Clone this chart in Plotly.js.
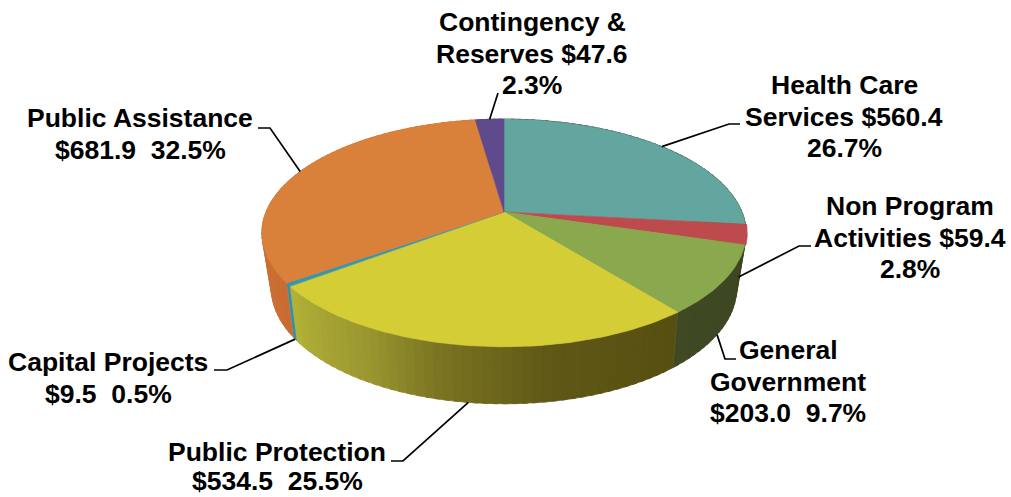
<!DOCTYPE html>
<html>
<head>
<meta charset="utf-8">
<title>Budget by program area</title>
<script src="https://cdn.plot.ly/plotly-3.0.1.min.js"></script>
<style>html,body{margin:0;padding:0;background:#fff}#chart{width:1011px;height:497px}</style>
</head>
<body>
<div id="chart"></div>
<script>
// Budget figures, in the order the slices run clockwise from twelve o'clock.
const categories = ["Health Care Services", "Non Program Activities", "General Government",
  "Public Protection", "Capital Projects", "Public Assistance", "Contingency & Reserves"];
const amounts = [560.4, 59.4, 203.0, 534.5, 9.5, 681.9, 47.6];
const percents = [26.7, 2.8, 9.7, 25.5, 0.5, 32.5, 2.3];

// Wording of each label, one entry per line; {a} and {p} are filled from the arrays above.
const labelLines = [
  ["Health Care", "Services {a}", "{p}"],
  ["Non Program", "Activities {a}", "{p}"],
  ["General", "Government", "{a}\u00a0\u00a0{p}"],
  ["Public Protection", "{a}\u00a0\u00a0{p}"],
  ["Capital Projects", "{a}\u00a0\u00a0{p}"],
  ["Public Assistance", "{a}\u00a0\u00a0{p}"],
  ["Contingency &", "Reserves {a}", "{p}"]
];

// Slice styling.
const topColors = ["#62a69f", "#bd4a4c", "#8aa84e", "#d4cd36", "#3a96a8", "#d9803a", "#5f4a8b"];
const wallStops = [
  [[0, "#3c4722"], [1, "#3c4722"]],
  [[0, "#3c4722"], [1, "#3c4722"]],
  [[0, "#3c4722"], [1, "#3f4a24"]],
  [[0, "#564f10"], [0.3, "#5e5716"], [0.55, "#7a7422"], [0.72, "#9a9630"], [1, "#b4b338"]],
  [[0, "#3d8fa0"], [1, "#3d8fa0"]],
  [[0, "#c96c32"], [0.3, "#cf7434"], [1, "#cf7434"]],
  [[0, "#4a3a70"], [1, "#4a3a70"]]
];

// Perspective pie geometry, in page units (the axes run 1:1 with the page).
const top3d = {cx: 504, cy: 212, rx: 238, ry: 110, tilt: 0.184};
const base3d = {cx: 504, cy: 265, rx: 228, ry: 111, tilt: 0.2};
const explodeFactor = [1, 1.005, 1, 1, 1, 1, 1];

function project(g, deg, scale) {
  const t = deg * Math.PI / 180, s = scale || 1;
  const u = Math.sin(t), v = Math.cos(t), d = 1 + g.tilt * v;
  return [g.cx + s * g.rx * u / d, g.cy - s * g.ry * v / d];
}
function arc(g, a, b, scale) {
  const n = Math.max(2, Math.ceil(Math.abs(b - a))), pts = [];
  for (let i = 0; i <= n; i++) pts.push(project(g, a + (b - a) * i / n, scale));
  return pts;
}
function hex(c) { return [1, 3, 5].map(i => parseInt(c.substr(i, 2), 16)); }
function shade(stops, f) {
  for (let i = 1; i < stops.length; i++) {
    if (f <= stops[i][0]) {
      const k = (f - stops[i - 1][0]) / (stops[i][0] - stops[i - 1][0]);
      const a = hex(stops[i - 1][1]), b = hex(stops[i][1]);
      return "rgb(" + a.map((v, j) => Math.round(v + (b[j] - v) * k)).join(",") + ")";
    }
  }
  return stops[stops.length - 1][1];
}
function polygon(pts, color, name, lineWidth) {
  return {
    type: "scatter", mode: "lines", fill: "toself", fillcolor: color,
    x: pts.map(p => p[0]), y: pts.map(p => p[1]),
    line: {color: color, width: lineWidth}, name: name, hoverinfo: "name", showlegend: false
  };
}

// Cumulative angles from the amounts.
const total = amounts.reduce((s, v) => s + v, 0);
const edges = [0];
amounts.forEach(v => edges.push(edges[edges.length - 1] + v / total * 360));

const traces = [];

// Side wall: narrow strips so the shading can vary round the rim. Each strip runs a
// little past its neighbour's edge and the next one paints over it, which closes the seams.
const stripStep = 2;
categories.forEach((name, i) => {
  const a = edges[i], b = edges[i + 1];
  const n = Math.max(1, Math.ceil((b - a) / stripStep));
  for (let k = n - 1; k >= 0; k--) {
    const p = a + (b - a) * k / n, q = a + (b - a) * (k + 1) / n;
    const end = k === n - 1 ? q : q + 1;
    const pts = arc(top3d, p, end).concat(arc(base3d, end, p));
    traces.push(polygon(pts, shade(wallStops[i], (k + 0.5) / n), name, 0.8));
  }
});

// Top face of each slice.
categories.forEach((name, i) => {
  const pts = [[top3d.cx, top3d.cy]].concat(arc(top3d, edges[i], edges[i + 1], explodeFactor[i]));
  pts.push([top3d.cx, top3d.cy]);
  traces.push(polygon(pts, topColors[i], name, 0.6));
});

// Leader lines: start on the rim at each slice's mid angle, then elbow and end beside the label.
const leaderDepth = [0, 0.8, 1, 1, 1, 0, 0];
const leaderElbow = [[729, 124], [799, 246], [725, 359], [403, 461], [227, 370], [270, 128], [498, 93]];
const leaderEnd = [[740, 124], [811, 246], [736, 359], [391, 461], [214, 370], [258, 128], [498, 93]];
categories.forEach((name, i) => {
  const mid = (edges[i] + edges[i + 1]) / 2;
  const t = project(top3d, mid), b = project(base3d, mid), d = leaderDepth[i];
  const start = [t[0] + (b[0] - t[0]) * d, t[1] + (b[1] - t[1]) * d];
  traces.push({
    type: "scatter", mode: "lines", showlegend: false, hoverinfo: "skip",
    x: [start[0], leaderElbow[i][0], leaderEnd[i][0]],
    y: [start[1], leaderElbow[i][1], leaderEnd[i][1]],
    line: {color: "#000000", width: 1.7}
  });
});

// Label placement: horizontal centre, vertical centre of the first line, spacing between lines.
const labelX = [844, 910, 788, 277, 108, 140, 532];
const labelY = [85, 206, 350, 452, 362, 118, 22];
const labelGap = [31.5, 31.5, 31.5, 29, 31.5, 31.5, 31.5];
const annotations = [];
categories.forEach((name, i) => {
  labelLines[i].forEach((line, j) => {
    annotations.push({
      xref: "x", yref: "y", x: labelX[i], y: labelY[i] + j * labelGap[i],
      xanchor: "center", yanchor: "middle", align: "center", showarrow: false,
      text: line.replace("{a}", "$" + amounts[i].toFixed(1))
                .replace("{p}", percents[i].toFixed(1) + "%"),
      font: {family: "Liberation Sans, Arial, sans-serif", size: 26.5, color: "#000000", weight: 700}
    });
  });
});

Plotly.newPlot("chart", traces, {
  width: 1011, height: 497,
  margin: {l: 0, r: 0, t: 0, b: 0},
  paper_bgcolor: "#ffffff", plot_bgcolor: "#ffffff",
  showlegend: false, hovermode: "closest",
  xaxis: {range: [0, 1011], visible: false, fixedrange: true},
  yaxis: {range: [497, 0], visible: false, fixedrange: true},
  annotations: annotations
}, {displayModeBar: false});
</script>
</body>
</html>
